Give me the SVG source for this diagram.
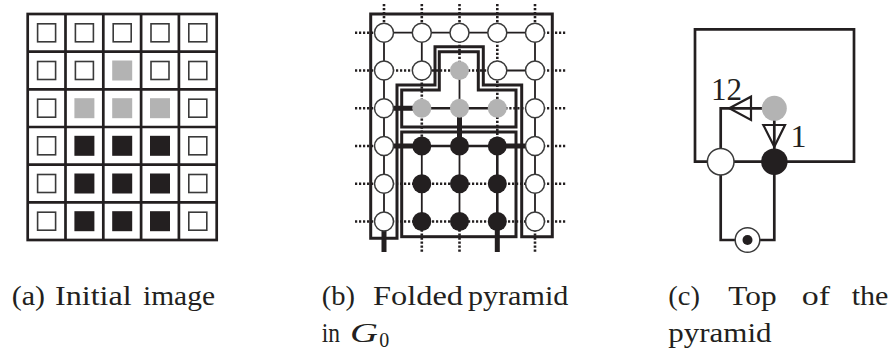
<svg xmlns="http://www.w3.org/2000/svg" width="894" height="349" viewBox="0 0 894 349">
<style>
.grid{fill:none;stroke:#231f20;stroke-width:2.7}
.os{fill:#fff;stroke:#3a3a3a;stroke-width:1.6}
.gs{fill:#b3b3b3}
.bs{fill:#231f20}
.thin{stroke:#231f20;stroke-width:1.8;fill:none}
.med{stroke:#231f20;stroke-width:2.6;fill:none}
.thick{stroke:#231f20;stroke-width:5;fill:none}
.dot{stroke:#231f20;stroke-width:2.6;stroke-dasharray:2.2 1.8;fill:none}
.poly{fill:none;stroke:#231f20;stroke-width:3}
.wn{fill:#fff;stroke:#3a3a3a;stroke-width:1.5}
.gn{fill:#b3b3b3}
.bn{fill:#231f20}
.cl{fill:none;stroke:#231f20;stroke-width:2.7}
.tri{fill:none;stroke:#231f20;stroke-width:2.2;stroke-linejoin:miter}
.cap{font-family:"Liberation Serif","Times New Roman",serif;font-size:28px;fill:#231f20}
.lbl{font-family:"Liberation Serif","Times New Roman",serif;font-size:32px;fill:#231f20}
</style>
<defs>
<rect id="osq" x="-9" y="-9" width="18" height="18" class="os"/>
<rect id="gsq" x="-10" y="-10" width="20" height="20" class="gs"/>
<rect id="bsq" x="-10" y="-10" width="20" height="20" class="bs"/>
</defs>

<!-- (a) Initial image -->
<g id="image-a">
<rect x="27.7" y="14" width="189" height="226" class="grid"/>
<path class="grid" d="M65.5 14V240M103.3 14V240M141.1 14V240M178.9 14V240M27.7 51.7H216.7M27.7 89.3H216.7M27.7 127H216.7M27.7 164.7H216.7M27.7 202.3H216.7"/>
<use href="#osq" x="46.6" y="32.8"/><use href="#osq" x="84.4" y="32.8"/><use href="#osq" x="122.2" y="32.8"/><use href="#osq" x="160" y="32.8"/><use href="#osq" x="197.8" y="32.8"/>
<use href="#osq" x="46.6" y="70.5"/><use href="#osq" x="84.4" y="70.5"/><use href="#gsq" x="122.2" y="70.5"/><use href="#osq" x="160" y="70.5"/><use href="#osq" x="197.8" y="70.5"/>
<use href="#osq" x="46.6" y="108.2"/><use href="#gsq" x="84.4" y="108.2"/><use href="#gsq" x="122.2" y="108.2"/><use href="#gsq" x="160" y="108.2"/><use href="#osq" x="197.8" y="108.2"/>
<use href="#osq" x="46.6" y="145.8"/><use href="#bsq" x="84.4" y="145.8"/><use href="#bsq" x="122.2" y="145.8"/><use href="#bsq" x="160" y="145.8"/><use href="#osq" x="197.8" y="145.8"/>
<use href="#osq" x="46.6" y="183.5"/><use href="#bsq" x="84.4" y="183.5"/><use href="#bsq" x="122.2" y="183.5"/><use href="#bsq" x="160" y="183.5"/><use href="#osq" x="197.8" y="183.5"/>
<use href="#osq" x="46.6" y="221.2"/><use href="#bsq" x="84.4" y="221.2"/><use href="#bsq" x="122.2" y="221.2"/><use href="#bsq" x="160" y="221.2"/><use href="#osq" x="197.8" y="221.2"/>
</g>

<!-- (b) connectors -->
<g id="connectors-b">
<path class="dot" d="M355 32.7H384M535 32.7H566M355 70.5H384M535 70.5H566M355 108.2H384M535 108.2H566M355 146H384M535 146H566M355 183.7H384M535 183.7H566M355 221.5H384M535 221.5H566"/>
<path class="dot" d="M384 4V32.7M421.8 4V32.7M459.5 4V32.7M497.3 4V32.7M535 4V32.7"/>
<path class="dot" d="M421.8 221.5V252M459.5 221.5V252M535 221.5V252"/>
<path class="thin" d="M384 32.7H535M497.3 70.5H535"/>
<path class="dot" d="M384 70.5H497.3M497.3 108.2H535M384 183.7H535M384 221.5H535"/>
<path class="thick" d="M384 108.2H421.8M384 146H421.8M497.3 146H535"/>
<path class="med" d="M421.8 108.2H497.3M421.8 146H497.3"/>
<path class="thin" d="M384 32.7V221.5M421.8 32.7V70.5M421.8 146V221.5M459.5 70.5V108.2M459.5 146V221.5M535 32.7V221.5"/>
<path class="med" d="M497.3 146V221.5"/>
<path class="dot" d="M421.8 70.5V146M459.5 32.7V70.5M497.3 32.7V146"/>
<path class="thick" d="M384 221.5V252M459.5 108.2V146M497.3 221.5V252"/>
</g>
<g id="regions-b">
<path class="poly" d="M370.7 14H552.3V236.7H521.7V85H483.3V46.7H435V85H397V238.3H370.7Z"/>
<path class="poly" d="M439.3 51.7H478.3V90H516V127H401.7V90H439.3Z"/>
<rect class="poly" x="401.7" y="132" width="114.3" height="104.7"/>
</g>
<g id="nodes-b">
<g id="b-r0"><circle class="wn" cx="384" cy="32.7" r="9.5"/><circle class="wn" cx="421.8" cy="32.7" r="9.5"/><circle class="wn" cx="459.5" cy="32.7" r="9.5"/><circle class="wn" cx="497.3" cy="32.7" r="9.5"/><circle class="wn" cx="535" cy="32.7" r="9.5"/></g>
<g id="b-r1"><circle class="wn" cx="384" cy="70.5" r="9.5"/><circle class="wn" cx="421.8" cy="70.5" r="9.5"/><circle class="gn" cx="459.5" cy="70.5" r="9.5"/><circle class="wn" cx="497.3" cy="70.5" r="9.5"/><circle class="wn" cx="535" cy="70.5" r="9.5"/></g>
<g id="b-r2"><circle class="wn" cx="384" cy="108.2" r="9.5"/><circle class="gn" cx="421.8" cy="108.2" r="9.5"/><circle class="gn" cx="459.5" cy="108.2" r="9.5"/><circle class="gn" cx="497.3" cy="108.2" r="9.5"/><circle class="wn" cx="535" cy="108.2" r="9.5"/></g>
<g id="b-r3"><circle class="wn" cx="384" cy="146" r="9.5"/><circle class="bn" cx="421.8" cy="146" r="9.5"/><circle class="bn" cx="459.5" cy="146" r="9.5"/><circle class="bn" cx="497.3" cy="146" r="9.5"/><circle class="wn" cx="535" cy="146" r="9.5"/></g>
<g id="b-r4"><circle class="wn" cx="384" cy="183.7" r="9.5"/><circle class="bn" cx="421.8" cy="183.7" r="9.5"/><circle class="bn" cx="459.5" cy="183.7" r="9.5"/><circle class="bn" cx="497.3" cy="183.7" r="9.5"/><circle class="wn" cx="535" cy="183.7" r="9.5"/></g>
<g id="b-r5"><circle class="wn" cx="384" cy="221.5" r="9.5"/><circle class="bn" cx="421.8" cy="221.5" r="9.5"/><circle class="bn" cx="459.5" cy="221.5" r="9.5"/><circle class="bn" cx="497.3" cy="221.5" r="9.5"/><circle class="wn" cx="535" cy="221.5" r="9.5"/></g>
</g>

<!-- (c) top of the pyramid -->
<g id="connectors-c">
<path class="cl" d="M695 29.3H854V161.7H695Z"/>
<path class="cl" d="M762 108.3H720.7V161.7M774.3 108.3V161.7M720.7 161.7V240H774.3V161.7"/>
<polygon class="tri" points="729.3,108.3 751,96.7 751,120"/>
<polygon class="tri" points="763.3,125 785,125 774.3,146.7"/>
<text class="lbl" x="711" y="100" textLength="31" lengthAdjust="spacingAndGlyphs">12</text>
<text class="lbl" x="790.5" y="146.5">1</text>
</g>
<g id="c-white"><circle class="wn" cx="720.7" cy="161.7" r="13.3"/></g>
<g id="c-black"><circle class="bn" cx="774.3" cy="161.7" r="13.3"/></g>
<g id="c-gray"><circle class="gn" cx="774.3" cy="108.3" r="12.5"/></g>
<g id="c-sink"><circle class="wn" cx="747.5" cy="240" r="12.3"/><circle class="bn" cx="747.5" cy="240" r="5"/></g>

<!-- captions -->
<g id="captions">
<text class="cap" y="305"><tspan x="11.7" textLength="33.3" lengthAdjust="spacingAndGlyphs">(a)</tspan><tspan x="55" textLength="76.7" lengthAdjust="spacingAndGlyphs">Initial</tspan><tspan x="143" textLength="72" lengthAdjust="spacingAndGlyphs">image</tspan></text>
<text class="cap" y="305"><tspan x="321.7" textLength="33.3" lengthAdjust="spacingAndGlyphs">(b)</tspan><tspan x="373" textLength="90" lengthAdjust="spacingAndGlyphs">Folded</tspan><tspan x="468" textLength="100.3" lengthAdjust="spacingAndGlyphs">pyramid</tspan></text>
<text class="cap" y="341.7"><tspan x="321.7" textLength="18.3" lengthAdjust="spacingAndGlyphs">in</tspan><tspan x="350" font-style="italic" textLength="28" lengthAdjust="spacingAndGlyphs">G</tspan><tspan x="379.3" y="346.7" font-size="20">0</tspan></text>
<text class="cap" y="305"><tspan x="668.3" textLength="31.7" lengthAdjust="spacingAndGlyphs">(c)</tspan><tspan x="728.3" textLength="48.3" lengthAdjust="spacingAndGlyphs">Top</tspan><tspan x="801.7" textLength="28.3" lengthAdjust="spacingAndGlyphs">of</tspan><tspan x="851.7" textLength="36.7" lengthAdjust="spacingAndGlyphs">the</tspan></text>
<text class="cap" y="341.7"><tspan x="668.3" textLength="103.3" lengthAdjust="spacingAndGlyphs">pyramid</tspan></text>
</g>
</svg>
